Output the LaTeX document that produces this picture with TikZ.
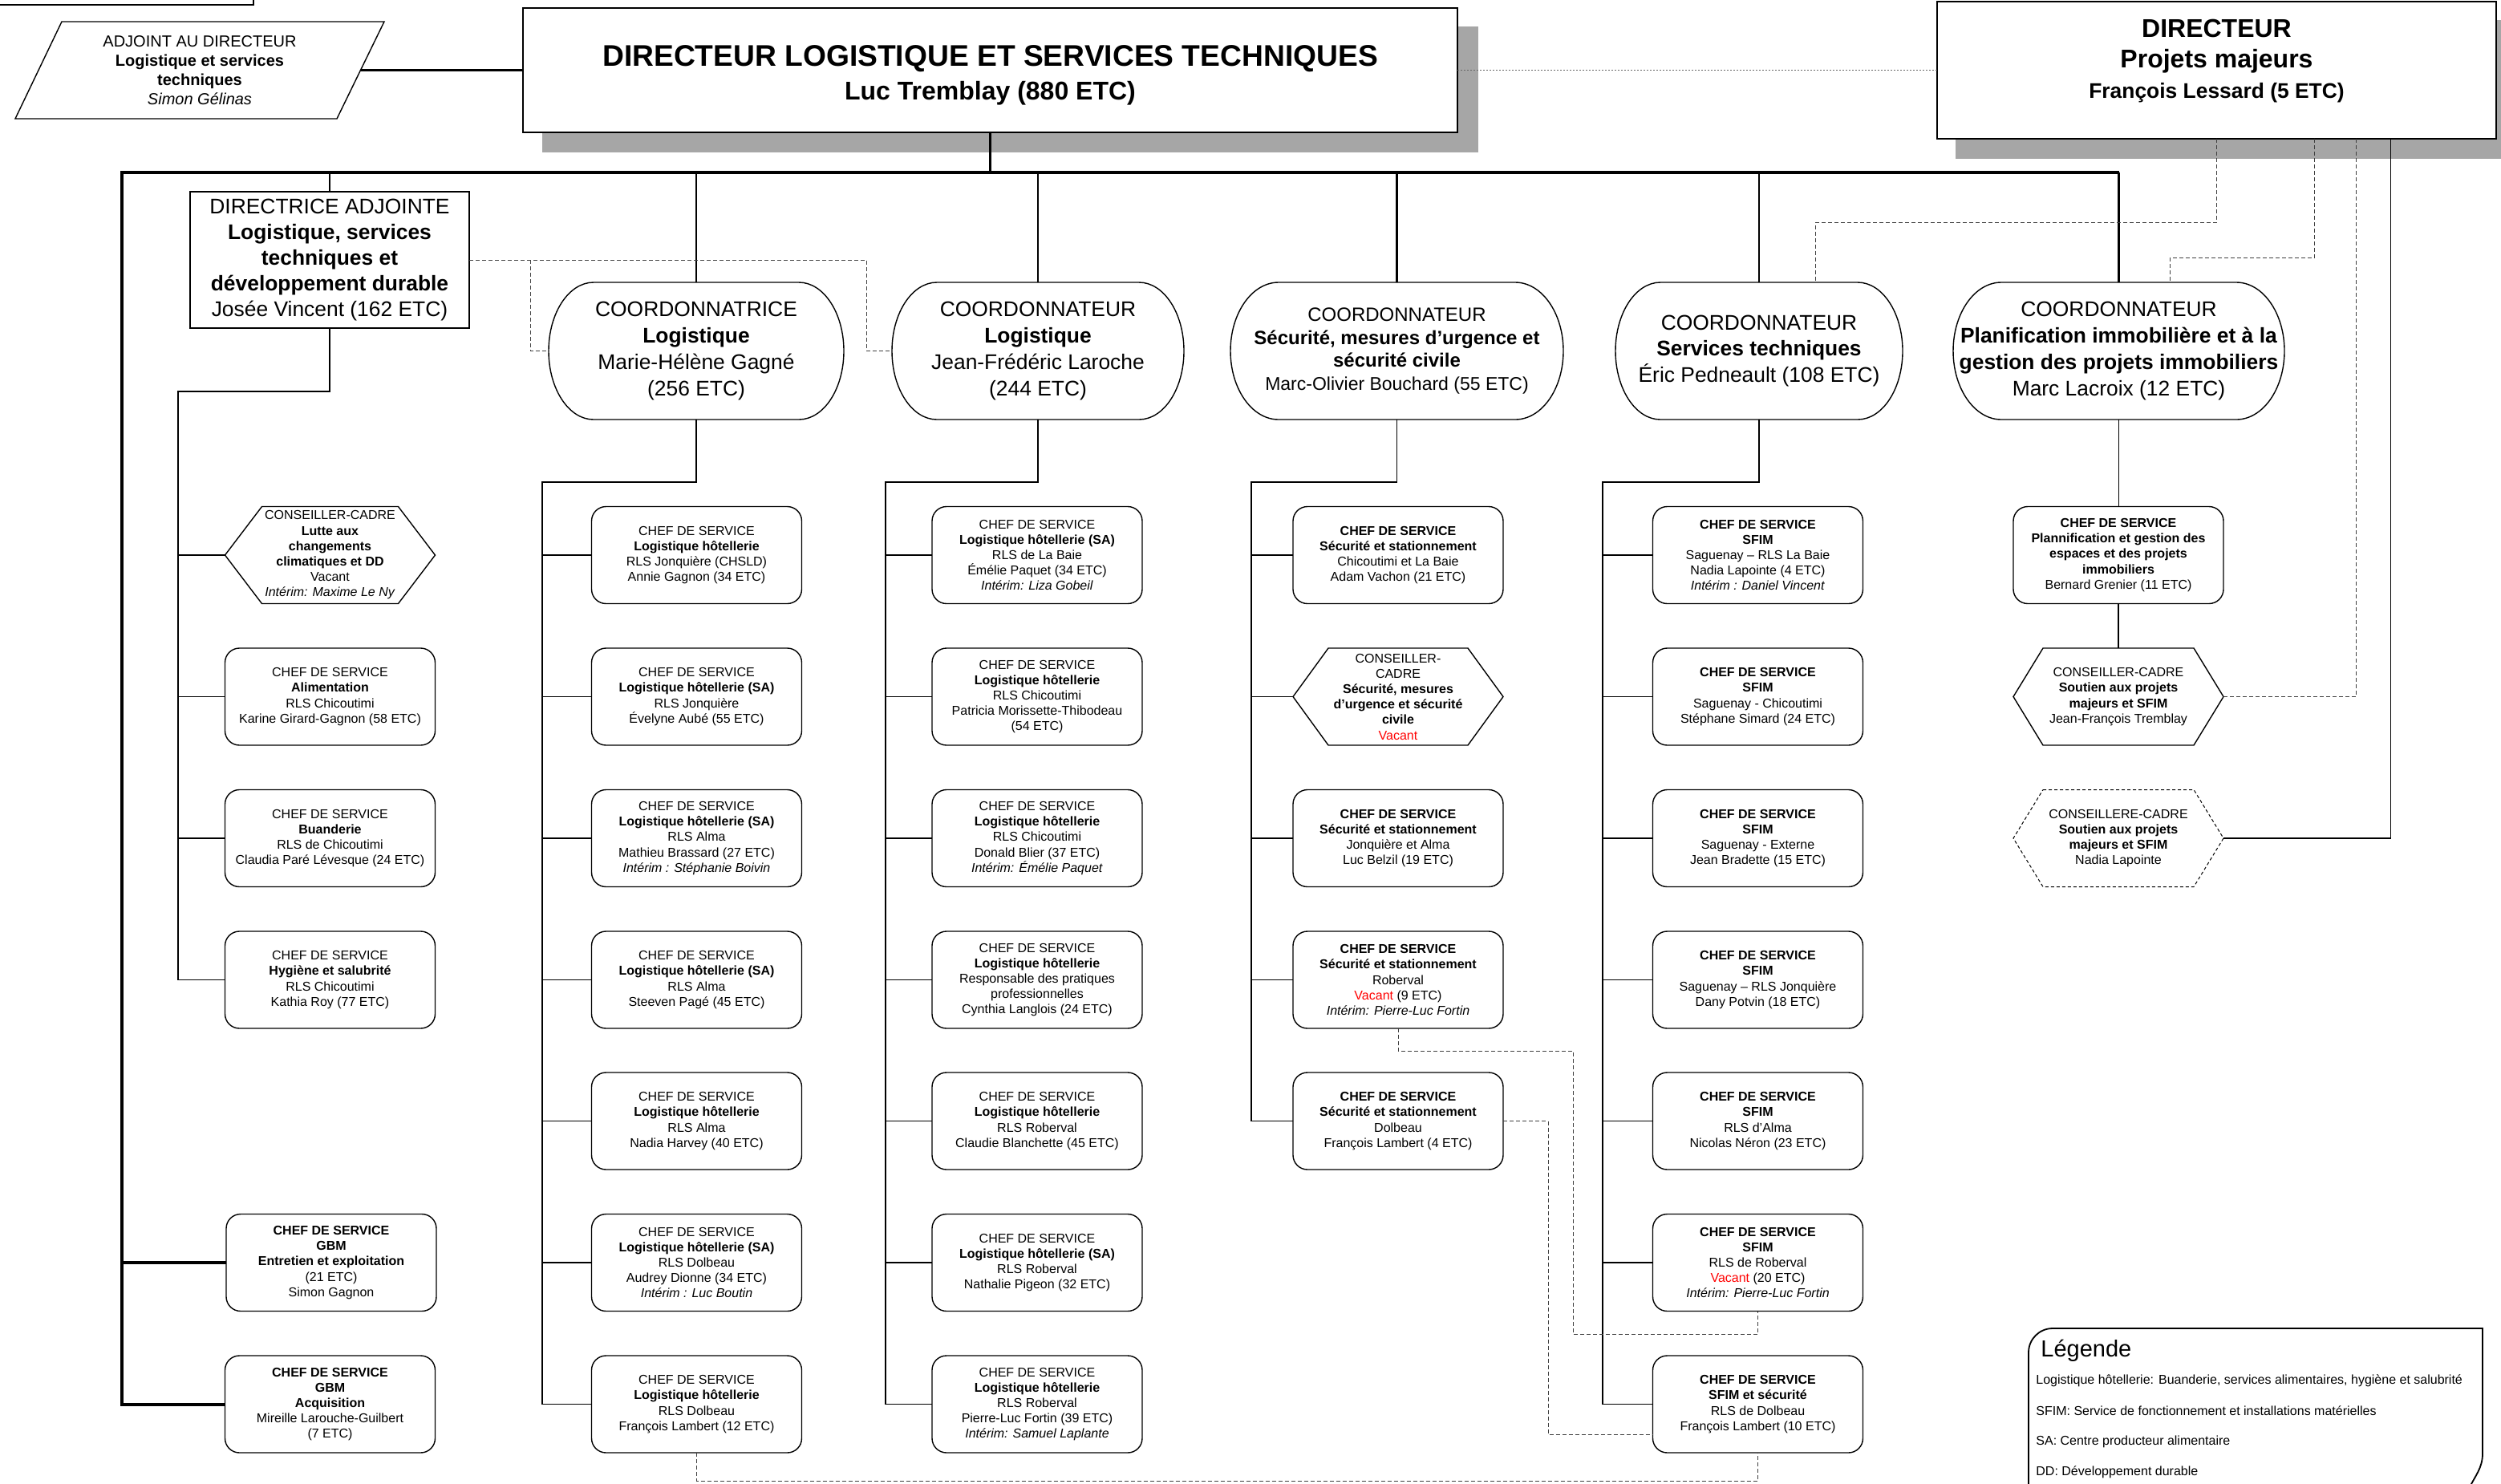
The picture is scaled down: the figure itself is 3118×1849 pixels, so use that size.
\documentclass[tikz,border=0pt]{standalone}
\usepackage{fontspec}
\setmainfont{Liberation Sans}
\definecolor{shad}{HTML}{A6A6A6}
\definecolor{vacred}{HTML}{FF0000}
\newcommand\vac{\textcolor{vacred}{Vacant}}
\newcommand\hexpath[3][]{%
  \draw[boxline,#1] ([xshift=#3]#2.north west) -- ([xshift=-#3]#2.north east) -- (#2.east)
  -- ([xshift=-#3]#2.south east) -- ([xshift=#3]#2.south west) -- (#2.west) -- cycle;}
\newcommand\coordpath[2]{%
  \draw[boxline] ([xshift=#2]#1.north west) -- ([xshift=-#2]#1.north east)
   arc[start angle=90,end angle=-90,x radius=#2,y radius=42.75pt]
   -- ([xshift=#2]#1.south west)
   arc[start angle=270,end angle=90,x radius=#2,y radius=42.75pt] -- cycle;}
\tikzset{
  boxline/.style={line width=0.7pt},
  sm/.style={font=\fontsize{8}{9.6}\selectfont},
  csbox/.style={draw, boxline, rounded corners=9pt, minimum width=131pt, minimum height=60.5pt, align=center, inner sep=0pt, outer sep=0pt, sm},
  hexnode/.style={minimum width=131pt, minimum height=60.5pt, align=center, inner sep=0pt, outer sep=0pt, sm},
  coordnode/.style={minimum height=85.5pt, align=center, inner sep=0pt, outer sep=0pt, font=\fontsize{13.2}{16.4}\selectfont},
  tree/.style={line width=0.55pt},
  heavy/.style={line width=2pt},
  midline/.style={line width=1.3pt},
  dline/.style={line width=0.5pt, black!75, dash pattern=on 2.5pt off 1.5pt},
  fine/.style={line width=0.5pt, black!60, dash pattern=on 1.2pt off 0.8pt},
  legtxt/.style={anchor=west, inner sep=0pt, font=\fontsize{8}{9.6}\selectfont},
}
\def\yA{692}\def\yB{868.5}\def\yC{1045}\def\yD{1221.5}\def\yE{1397.5}\def\yF{1574}\def\yG{1750.5}
\begin{document}
\begin{tikzpicture}[x=0.5pt,y=-0.5pt]
\useasboundingbox (0,0) rectangle (3118,1849);
\fill[white] (0,0) rectangle (3118,1849);

% partial box top-left
\draw[line width=0.6pt] (0,6) -- (316,6) -- (316,-10);

% ---- top level ----
\fill[shad] (676,33) rectangle (1843,190);
\node[draw, line width=1.4pt, fill=white, minimum width=582.5pt, minimum height=77.5pt, inner sep=0pt, outer sep=0pt] (main) at (1234.5,87.5) {};
\node[align=center, inner sep=0pt, font=\fontsize{18.6}{21}\selectfont\bfseries] (mainT) at (1234.5,94)
  {DIRECTEUR LOGISTIQUE ET SERVICES TECHNIQUES\\{\fontsize{16}{21}\selectfont Luc Tremblay (880 ETC)}};

\fill[shad] (2438,25) rectangle (3140,198);
\node[draw, line width=1.4pt, fill=white, minimum width=348.5pt, minimum height=85.5pt, inner sep=0pt, outer sep=0pt] (dirP) at (2763.5,87.5) {};
\node[align=center, inner sep=0pt, font=\fontsize{16}{19}\selectfont\bfseries] (dirPT) at (2763.5,76)
  {DIRECTEUR\\Projets majeurs\\{\fontsize{13.2}{18.5}\selectfont François Lessard (5 ETC)}};

% adjoint parallelogram
\draw[boxline] (77,27) -- (479,27) -- (420,148) -- (19,148) -- cycle;
\node[align=center, inner sep=0pt, font=\fontsize{10}{12}\selectfont] (adj) at (249,87.5)
  {ADJOINT AU DIRECTEUR\\\textbf{Logistique et services}\\\textbf{techniques}\\\textit{Simon Gélinas}};
\coordinate (adjR) at (449.5,87.5);
\draw[line width=1.5pt] (adjR) -- (main.west);
\draw[fine] (main.east) -- (main.east -| dirP.west);

% directrice
\node[draw, line width=0.6pt, minimum width=174pt, minimum height=85pt, inner sep=0pt, outer sep=0pt, align=center,
      font=\fontsize{13.2}{16}\selectfont] (dirA) at (411,324)
  {DIRECTRICE ADJOINTE\\\textbf{Logistique, services}\\\textbf{techniques et}\\\textbf{développement durable}\\Josée Vincent (162 ETC)};

% coordinators
\node[coordnode, minimum width=184pt] (gagn) at (868,437.5) {COORDONNATRICE\\\textbf{Logistique}\\Marie-Hélène Gagné\\(256 ETC)};
\coordpath{gagn}{28pt}
\node[coordnode, minimum width=182pt] (laro) at (1294,437.5) {COORDONNATEUR\\\textbf{Logistique}\\Jean-Frédéric Laroche\\(244 ETC)};
\coordpath{laro}{28pt}
\node[coordnode, minimum width=207.5pt, font=\fontsize{12}{14.3}\selectfont] (bouc) at (1741.5,437.5)
  {COORDONNATEUR\\\textbf{Sécurité, mesures d’urgence et}\\\textbf{sécurité civile}\\{\fontsize{11.5}{14.3}\selectfont Marc-Olivier Bouchard (55 ETC)}};
\coordpath{bouc}{30pt}
\node[coordnode, minimum width=179pt] (pedn) at (2193,437.5) {COORDONNATEUR\\\textbf{Services techniques}\\Éric Pedneault (108 ETC)};
\coordpath{pedn}{28pt}
\node[coordnode, minimum width=206.5pt] (lacr) at (2641.5,437.5) {COORDONNATEUR\\\textbf{Planification immobilière et à la}\\\textbf{gestion des projets immobiliers}\\Marc Lacroix (12 ETC)};
\coordpath{lacr}{30pt}

% bus
\coordinate (busL) at (152,215);
\coordinate (busR) at (2641.5,215);
\draw[midline] (main.south) -- (main.south |- busL);
\foreach \n in {dirA,gagn,laro,bouc,pedn,lacr} \draw[midline] (\n.north |- busL) -- (\n.north);

% ---- column 1 ----
\node[hexnode] (c1a) at (411.5,\yA) {CONSEILLER-CADRE\\\textbf{Lutte aux}\\\textbf{changements}\\\textbf{climatiques et DD}\\Vacant\\\textit{Intérim: Maxime Le Ny}};
\hexpath{c1a}{23pt}
\node[csbox] (c1b) at (411.5,\yB) {CHEF DE SERVICE\\\textbf{Alimentation}\\RLS Chicoutimi\\Karine Girard-Gagnon (58 ETC)};
\node[csbox] (c1c) at (411.5,\yC) {CHEF DE SERVICE\\\textbf{Buanderie}\\RLS de Chicoutimi\\Claudia Paré Lévesque (24 ETC)};
\node[csbox] (c1d) at (411.5,\yD) {CHEF DE SERVICE\\\textbf{Hygiène et salubrité}\\RLS Chicoutimi\\Kathia Roy (77 ETC)};
\node[csbox] (c1f) at (413,\yF) {\textbf{CHEF DE SERVICE}\\\textbf{GBM}\\\textbf{Entretien et exploitation}\\(21 ETC)\\Simon Gagnon};
\node[csbox] (c1g) at (411.5,\yG) {\textbf{CHEF DE SERVICE}\\\textbf{GBM}\\\textbf{Acquisition}\\Mireille Larouche-Guilbert\\(7 ETC)};
\coordinate (t1) at (222,488);
\draw[tree] (dirA.south) |- (t1) -- (t1 |- c1d.west);
\foreach \n in {c1a,c1b,c1c,c1d} \draw[tree] (t1 |- \n.west) -- (\n.west);
\draw[heavy] (busR) -- (busL) -- (busL |- c1g.west) -- (c1g.west);
\draw[heavy] (busL |- c1f.west) -- (c1f.west);

% ---- column 2 ----
\node[csbox] (c2a) at (868.5,\yA) {CHEF DE SERVICE\\\textbf{Logistique hôtellerie}\\RLS Jonquière (CHSLD)\\Annie Gagnon (34 ETC)};
\node[csbox] (c2b) at (868.5,\yB) {CHEF DE SERVICE\\\textbf{Logistique hôtellerie (SA)}\\RLS Jonquière\\Évelyne Aubé (55 ETC)};
\node[csbox] (c2c) at (868.5,\yC) {CHEF DE SERVICE\\\textbf{Logistique hôtellerie (SA)}\\RLS Alma\\Mathieu Brassard (27 ETC)\\\textit{Intérim : Stéphanie Boivin}};
\node[csbox] (c2d) at (868.5,\yD) {CHEF DE SERVICE\\\textbf{Logistique hôtellerie (SA)}\\RLS Alma\\Steeven Pagé (45 ETC)};
\node[csbox] (c2e) at (868.5,\yE) {CHEF DE SERVICE\\\textbf{Logistique hôtellerie}\\RLS Alma\\Nadia Harvey (40 ETC)};
\node[csbox] (c2f) at (868.5,\yF) {CHEF DE SERVICE\\\textbf{Logistique hôtellerie (SA)}\\RLS Dolbeau\\Audrey Dionne (34 ETC)\\\textit{Intérim : Luc Boutin}};
\node[csbox] (c2g) at (868.5,\yG) {CHEF DE SERVICE\\\textbf{Logistique hôtellerie}\\RLS Dolbeau\\François Lambert (12 ETC)};
\coordinate (t2) at (676,601);
\draw[tree] (gagn.south) |- (t2) -- (t2 |- c2g.west);
\foreach \n in {c2a,c2b,c2c,c2d,c2e,c2f,c2g} \draw[tree] (t2 |- \n.west) -- (\n.west);

% ---- column 3 ----
\node[csbox] (c3a) at (1293,\yA) {CHEF DE SERVICE\\\textbf{Logistique hôtellerie (SA)}\\RLS de La Baie\\Émélie Paquet (34 ETC)\\\textit{Intérim: Liza Gobeil}};
\node[csbox] (c3b) at (1293,\yB) {CHEF DE SERVICE\\\textbf{Logistique hôtellerie}\\RLS Chicoutimi\\Patricia Morissette-Thibodeau\\(54 ETC)};
\node[csbox] (c3c) at (1293,\yC) {CHEF DE SERVICE\\\textbf{Logistique hôtellerie}\\RLS Chicoutimi\\Donald Blier (37 ETC)\\\textit{Intérim: Émélie Paquet}};
\node[csbox] (c3d) at (1293,\yD) {CHEF DE SERVICE\\\textbf{Logistique hôtellerie}\\Responsable des pratiques\\professionnelles\\Cynthia Langlois (24 ETC)};
\node[csbox] (c3e) at (1293,\yE) {CHEF DE SERVICE\\\textbf{Logistique hôtellerie}\\RLS Roberval\\Claudie Blanchette (45 ETC)};
\node[csbox] (c3f) at (1293,\yF) {CHEF DE SERVICE\\\textbf{Logistique hôtellerie (SA)}\\RLS Roberval\\Nathalie Pigeon (32 ETC)};
\node[csbox] (c3g) at (1293,\yG) {CHEF DE SERVICE\\\textbf{Logistique hôtellerie}\\RLS Roberval\\Pierre-Luc Fortin (39 ETC)\\\textit{Intérim: Samuel Laplante}};
\coordinate (t3) at (1104,601);
\draw[tree] (laro.south) |- (t3) -- (t3 |- c3g.west);
\foreach \n in {c3a,c3b,c3c,c3d,c3e,c3f,c3g} \draw[tree] (t3 |- \n.west) -- (\n.west);

% ---- column 4 ----
\node[csbox] (c4a) at (1743,\yA) {\textbf{CHEF DE SERVICE}\\\textbf{Sécurité et stationnement}\\Chicoutimi et La Baie\\Adam Vachon (21 ETC)};
\node[hexnode] (c4h) at (1743,\yB) {CONSEILLER-\\CADRE\\\textbf{Sécurité, mesures}\\\textbf{d’urgence et sécurité}\\\textbf{civile}\\\vac};
\hexpath{c4h}{22pt}
\node[csbox] (c4b) at (1743,\yC) {\textbf{CHEF DE SERVICE}\\\textbf{Sécurité et stationnement}\\Jonquière et Alma\\Luc Belzil (19 ETC)};
\node[csbox] (c4c) at (1743,\yD) {\textbf{CHEF DE SERVICE}\\\textbf{Sécurité et stationnement}\\Roberval\\\vac{} (9 ETC)\\\textit{Intérim: Pierre-Luc Fortin}};
\node[csbox] (c4d) at (1743,\yE) {\textbf{CHEF DE SERVICE}\\\textbf{Sécurité et stationnement}\\Dolbeau\\François Lambert (4 ETC)};
\coordinate (t4) at (1560,601);
\draw[tree] (bouc.south) |- (t4) -- (t4 |- c4d.west);
\foreach \n in {c4a,c4h,c4b,c4c,c4d} \draw[tree] (t4 |- \n.west) -- (\n.west);

% ---- column 5 ----
\node[csbox] (c5a) at (2191.5,\yA) {\textbf{CHEF DE SERVICE}\\\textbf{SFIM}\\Saguenay – RLS La Baie\\Nadia Lapointe (4 ETC)\\\textit{Intérim : Daniel Vincent}};
\node[csbox] (c5b) at (2191.5,\yB) {\textbf{CHEF DE SERVICE}\\\textbf{SFIM}\\Saguenay - Chicoutimi\\Stéphane Simard (24 ETC)};
\node[csbox] (c5c) at (2191.5,\yC) {\textbf{CHEF DE SERVICE}\\\textbf{SFIM}\\Saguenay - Externe\\Jean Bradette (15 ETC)};
\node[csbox] (c5d) at (2191.5,\yD) {\textbf{CHEF DE SERVICE}\\\textbf{SFIM}\\Saguenay – RLS Jonquière\\Dany Potvin (18 ETC)};
\node[csbox] (c5e) at (2191.5,\yE) {\textbf{CHEF DE SERVICE}\\\textbf{SFIM}\\RLS d’Alma\\Nicolas Néron (23 ETC)};
\node[csbox] (c5f) at (2191.5,\yF) {\textbf{CHEF DE SERVICE}\\\textbf{SFIM}\\RLS de Roberval\\\vac{} (20 ETC)\\\textit{Intérim: Pierre-Luc Fortin}};
\node[csbox] (c5g) at (2191.5,\yG) {\textbf{CHEF DE SERVICE}\\\textbf{SFIM et sécurité}\\RLS de Dolbeau\\François Lambert (10 ETC)};
\coordinate (t5) at (1998,601);
\draw[tree] (pedn.south) |- (t5) -- (t5 |- c5g.west);
\foreach \n in {c5a,c5b,c5c,c5d,c5e,c5f,c5g} \draw[tree] (t5 |- \n.west) -- (\n.west);

% ---- column 6 ----
\node[csbox] (c6a) at (2641,\yA) {\textbf{CHEF DE SERVICE}\\\textbf{Plannification et gestion des}\\\textbf{espaces et des projets}\\\textbf{immobiliers}\\Bernard Grenier (11 ETC)};
\node[hexnode] (c6b) at (2641,\yB) {CONSEILLER-CADRE\\\textbf{Soutien aux projets}\\\textbf{majeurs et SFIM}\\Jean-François Tremblay};
\hexpath{c6b}{18.5pt}
\node[hexnode] (c6c) at (2641,\yC) {CONSEILLERE-CADRE\\\textbf{Soutien aux projets}\\\textbf{majeurs et SFIM}\\Nadia Lapointe};
\hexpath[dash pattern=on 2pt off 1.5pt, line width=0.5pt]{c6c}{18.5pt}
\draw[tree] (lacr.south) -- (lacr.south |- c6a.north);
\draw[tree] (c6a.south) -- (c6b.north);

% ---- dashed links ----
\coordinate (dA) at (1080,324);
\coordinate (dB) at (661,324);
\draw[dline] (dirA.east) -- (dA) |- (laro.west);
\draw[dline] (dB) |- (gagn.west);
\draw[dline] (dirP.south) -- ++(0,104) -| ([xshift=35pt]pedn.north);
\draw[dline] ([xshift=61pt]dirP.south) -- ++(0,148) -| ([xshift=32pt]lacr.north);
\draw[dline] ([xshift=87pt]dirP.south) |- (c6b.east);
\draw[tree] ([xshift=108.5pt]dirP.south) |- (c6c.east);
\draw[dline] (c2g.south) -- ++(0,35) -| (c5g.south);
\coordinate (dR) at (1961,1663);
\draw[dline] (c4c.south) -- ++(0,28) -| (dR) -| (c5f.south);
\coordinate (dD) at (1930,1788);
\draw[dline] (c4d.east) -| (dD) -- ([yshift=-18.75pt]c5g.west);

% ---- legend ----
\draw[line width=0.9pt] (2529,1870) -- (2529,1686) to[out=90,in=180] (2559,1656) -- (3095,1656) -- (3095,1812) to[out=-90,in=65] (3078,1856);
\node[anchor=west, inner sep=0pt, font=\fontsize{14.5}{17}\selectfont] (legT) at (2544,1684) {Légende};
\node[legtxt] (leg1) at (2538,1721) {Logistique hôtellerie: Buanderie, services alimentaires, hygiène et salubrité};
\node[legtxt] (leg2) at (2538,1759) {SFIM: Service de fonctionnement et installations matérielles};
\node[legtxt] (leg3) at (2538,1797) {SA: Centre producteur alimentaire};
\node[legtxt] (leg4) at (2538,1835) {DD: Développement durable};
\end{tikzpicture}
\end{document}
